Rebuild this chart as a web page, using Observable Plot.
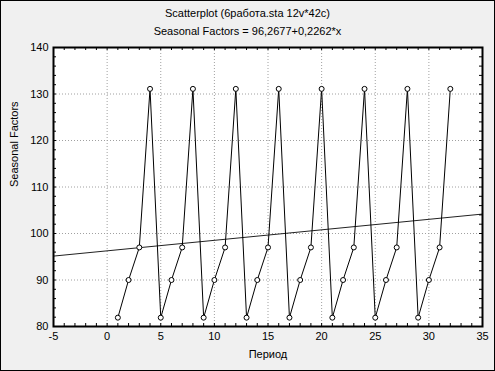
<!DOCTYPE html>
<html>
<head>
<meta charset="utf-8">
<script src="https://cdn.jsdelivr.net/npm/d3@7"></script>
<script src="https://cdn.jsdelivr.net/npm/@observablehq/plot@0.6"></script>
<style>
  html, body { margin: 0; padding: 0; background: #f0f0f0; }
  #wrap { position: relative; box-sizing: border-box; width: 495px; height: 371px; border: 1px solid #000; background: #f0f0f0; font-family: "Liberation Sans", Arial, sans-serif; color: #000; overflow: hidden; }
  #titles { height: 39px; text-align: center; font-size: 11px; }
  #t1 { position: absolute; left: 0; right: 0; top: 6px; }
  #t2 { position: absolute; left: 0; right: 0; top: 24px; }
  #chart { position: absolute; left: 0; top: 39px; }
  svg { display: block; }
</style>
</head>
<body>
<div id="wrap">
  <div id="titles">
    <div id="t1">Scatterplot (6работа.sta 12v*42c)</div>
    <div id="t2">Seasonal Factors = 96,2677+0,2262*x</div>
  </div>
  <div id="chart"></div>
</div>
<script>
const period = [1,2,3,4,5,6,7,8,9,10,11,12,13,14,15,16,17,18,19,20,21,22,23,24,25,26,27,28,29,30,31,32];
const seasonal = [
  81.9, 90.0, 97.0, 131.1,
  81.9, 90.0, 97.0, 131.1,
  81.9, 90.0, 97.0, 131.1,
  81.9, 90.0, 97.0, 131.1,
  81.9, 90.0, 97.0, 131.1,
  81.9, 90.0, 97.0, 131.1,
  81.9, 90.0, 97.0, 131.1,
  81.9, 90.0, 97.0, 131.1
];
const regX = [-5, 35];
const regY = [95.14, 104.18];
const xTicks = [-5, 0, 5, 10, 15, 20, 25, 30, 35];
const yTicks = [80, 90, 100, 110, 120, 130, 140];
const xGrid = [0, 5, 10, 15, 20, 25, 30];
const yGrid = [90, 100, 110, 120, 130];
const xMinor = d3.range(-5, 36, 1);
const yMinor = d3.range(80, 141, 2);

const data = period.map((p, i) => ({x: p, y: seasonal[i]}));
const reg = regX.map((x, i) => ({x, y: regY[i]}));

const W = 493, H = 331;
const mL = 52, mR = 12, mT = 7, mB = 45;
const iw = W - mL - mR, ih = H - mT - mB;
const tickLen = 3;

const chart = Plot.plot({
  width: W,
  height: H,
  marginLeft: mL,
  marginRight: mR,
  marginTop: mT,
  marginBottom: mB,
  style: {background: "transparent", fontFamily: "'Liberation Sans', Arial, sans-serif", fontSize: "11px", color: "#000"},
  x: {domain: [-5, 35], axis: null},
  y: {domain: [80, 140], axis: null},
  marks: [
    Plot.frame({fill: "white", stroke: null}),
    Plot.ruleX(xGrid, {x: d => d, stroke: "#a0a0a0", strokeDasharray: "1,2"}),
    Plot.ruleY(yGrid, {y: d => d, stroke: "#a0a0a0", strokeDasharray: "1,2"}),
    Plot.line(reg, {x: "x", y: "y", stroke: "#222", strokeWidth: 1}),
    Plot.line(data, {x: "x", y: "y", stroke: "#000", strokeWidth: 1}),
    Plot.dot(data, {x: "x", y: "y", r: 2.5, fill: "white", stroke: "#000", strokeWidth: 1}),
    Plot.tickX(xMinor, {x: d => d, insetTop: ih - tickLen, stroke: "#000"}),
    Plot.tickX(xMinor, {x: d => d, insetBottom: ih - tickLen, stroke: "#000"}),
    Plot.tickY(yMinor, {y: d => d, insetRight: iw - tickLen, stroke: "#000"}),
    Plot.tickY(yMinor, {y: d => d, insetLeft: iw - tickLen, stroke: "#000"}),
    Plot.frame({stroke: "#000", strokeWidth: 2}),
    Plot.axisX(xTicks, {tickSize: 0, tickPadding: 6, label: null, fontSize: 11, tickFormat: d => String(d).replace("-", "-")}),
    Plot.axisY(yTicks, {tickSize: 0, tickPadding: 5, label: null, fontSize: 11}),
    Plot.text(["Период"], {frameAnchor: "bottom", dy: 31, fontSize: 11}),
    Plot.text(["Seasonal Factors"], {frameAnchor: "left", dx: -39, rotate: -90, fontSize: 11})
  ]
});
document.getElementById("chart").appendChild(chart);
</script>
</body>
</html>
